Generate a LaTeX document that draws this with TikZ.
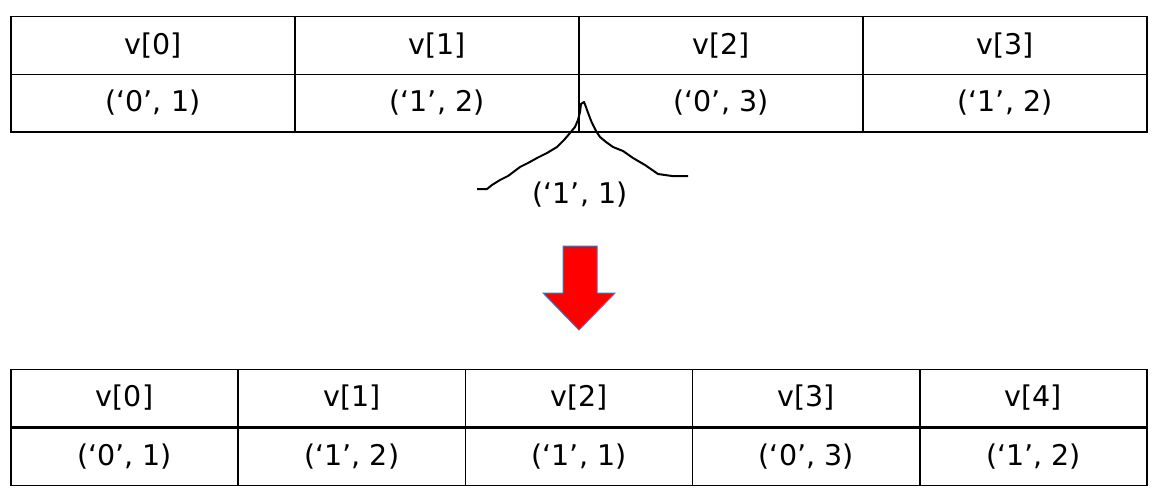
\documentclass[tikz,border=0pt]{standalone}
\usepackage{fontspec}
\setmainfont{DejaVu Sans}
\usetikzlibrary{calc}
\definecolor{arrowedge}{RGB}{68,114,196}

\begin{document}
\begin{tikzpicture}[x=1pt,y=-1pt]
		\tikzset{cell/.style={draw,black,line width=1.5pt,inner sep=0pt,
			minimum height=57.5pt,font=\fontsize{28.5}{30}\selectfont}}
		\useasboundingbox (0,0) rectangle (1161,495);
		% Top vector: four cells
		\foreach \i/\val in {0/{(‘0’, 1)},1/{(‘1’, 2)},2/{(‘0’, 3)},3/{(‘1’, 2)}}{%
			\node[cell,minimum width=284pt] (top\i) at (153+284*\i,45.5) {v[\i]};
			\node[cell,minimum width=284pt] (topval\i) at (153+284*\i,103) {\val};
		}
		% Bottom vector: five cells
		\foreach \i/\val in {0/{(‘0’, 1)},1/{(‘1’, 2)},2/{(‘1’, 1)},3/{(‘0’, 3)},4/{(‘1’, 2)}}{%
			\node[cell,minimum width=227.2pt] (bot\i) at (124.6+227.2*\i,398) {v[\i]};
			\node[cell,minimum width=227.2pt] (botval\i) at (124.6+227.2*\i,456.5) {\val};
		}
		% Insertion mark, drawn by hand
		\draw[line width=2pt,line join=round] (477,189) -- (487,189) -- (492,185)
			-- (500,180) -- (508,176) -- (520,167) -- (528,163) -- (537,158)
			-- (547,153) -- (557,147) -- (564,140) -- (570,133) -- (575,127)
			-- (578,120) -- (580,112) -- (581,104) -- (584,102) -- (586,107)
			-- (587,110) -- (590,118) -- (592,123) -- (596,131) -- (600,137)
			-- (606,142) -- (613,147) -- (623,151) -- (633,158) -- (645,165)
			-- (658,174) -- (672,176) -- (688,176);
		\node[font=\fontsize{28.5}{30}\selectfont] (newval) at (580,195) {(‘1’, 1)};
		% Block arrow
		\coordinate (ArrowTop) at (580,246);
		\filldraw[fill=red, draw=arrowedge, line width=1pt] (ArrowTop)
			++(-17,0) -- ++(34,0) -- ++(0,47) -- ++(18,0) -- (579,330)
			-- (543,293) -- (563,293) -- cycle;
	\end{tikzpicture}
\end{document}
